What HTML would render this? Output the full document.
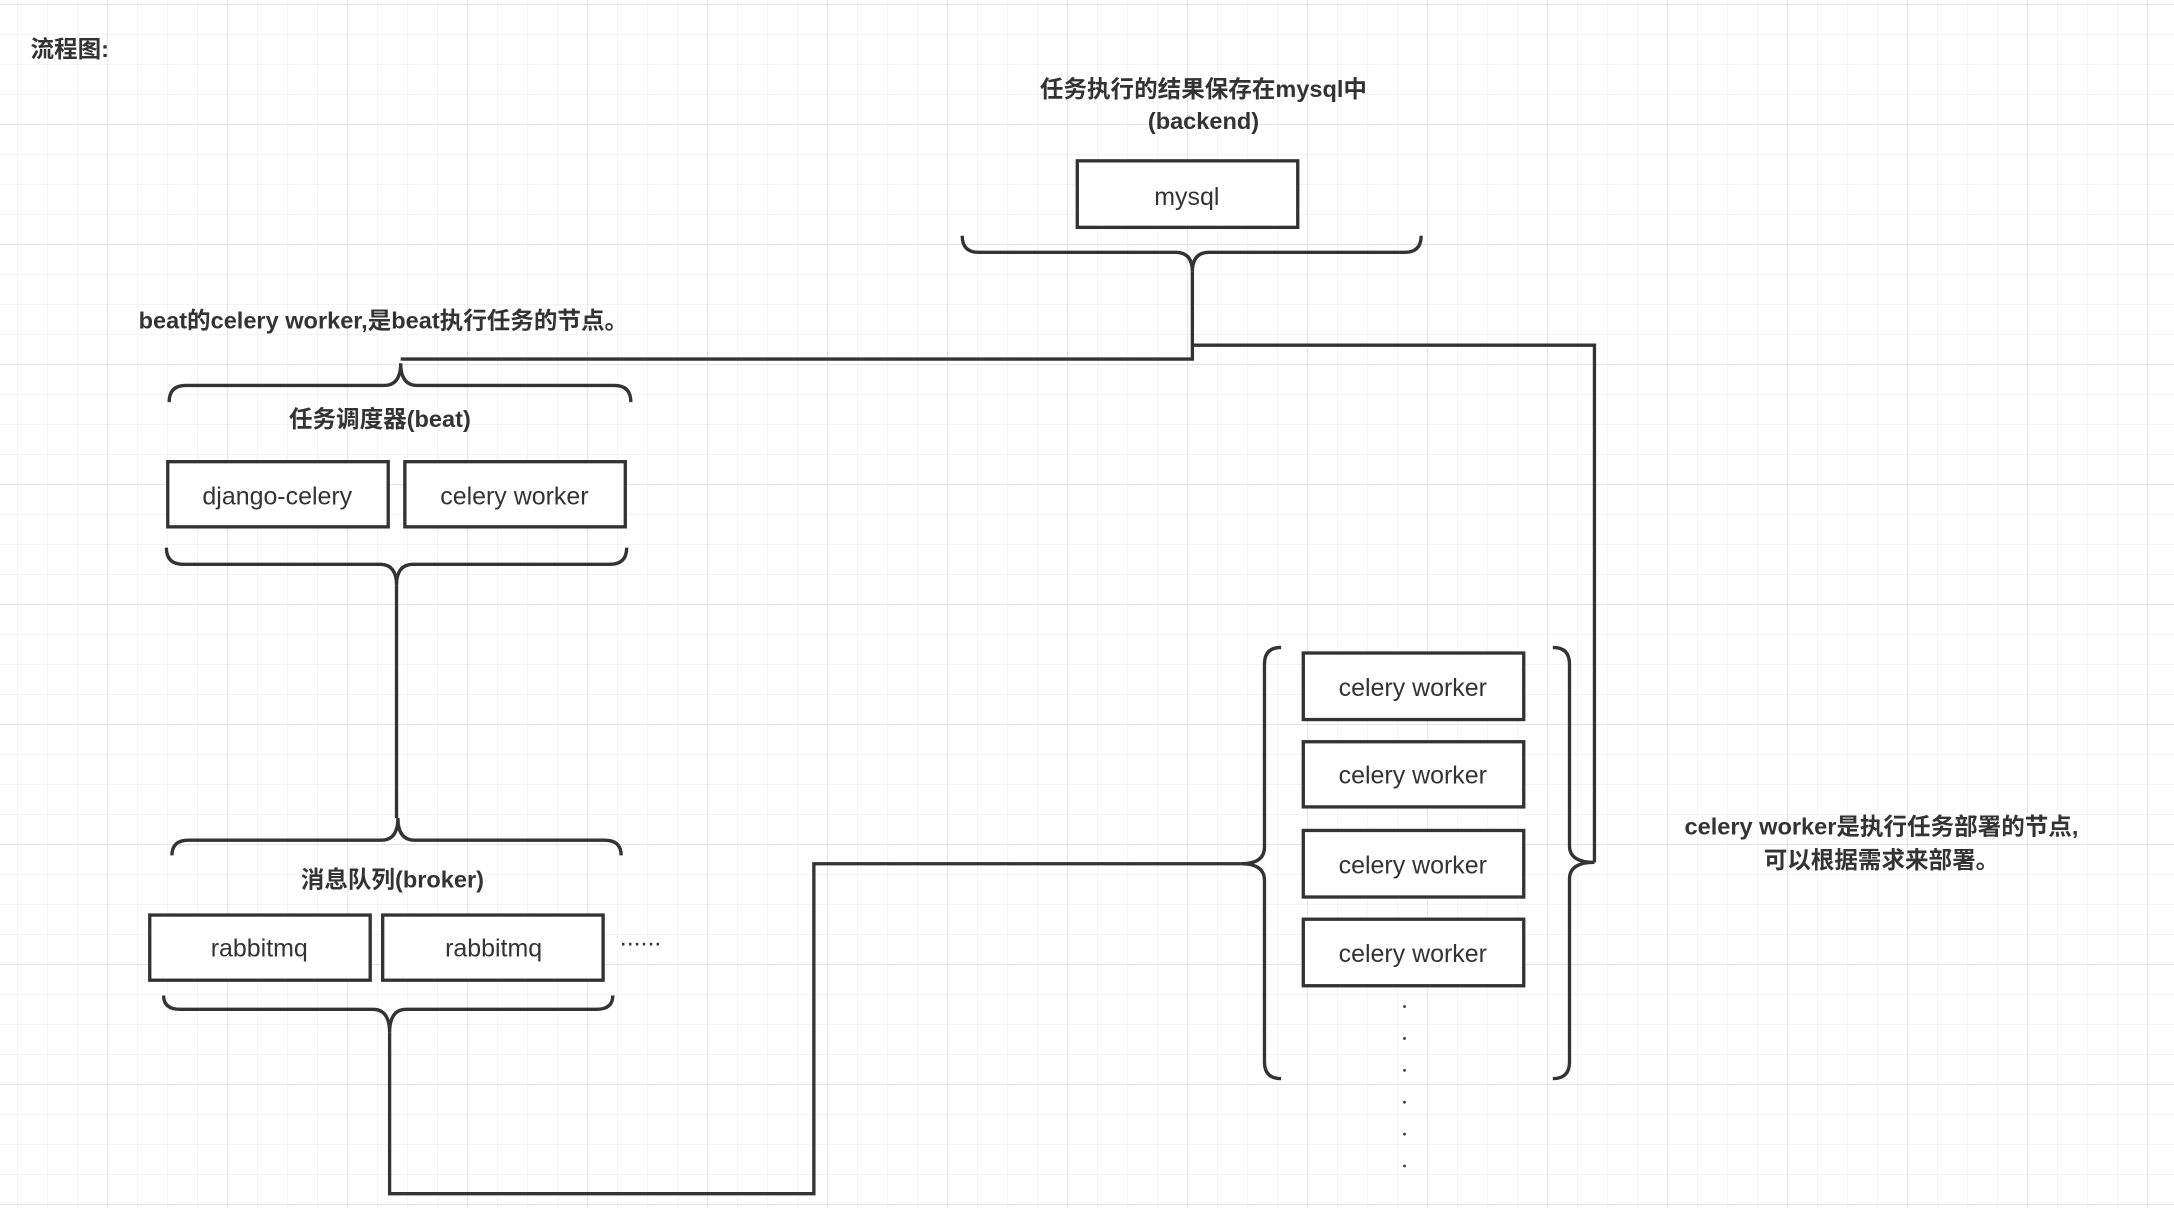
<!DOCTYPE html>
<html><head><meta charset="utf-8"><style>html,body{margin:0;padding:0;background:#fff}svg{display:block}</style></head>
<body>
<svg xmlns="http://www.w3.org/2000/svg" width="2174" height="1208" viewBox="0 0 1568 871.3" preserveAspectRatio="none" font-family="Liberation Sans, Noto Sans CJK SC, sans-serif">
<defs>
<pattern id="minor" width="21.64" height="21.64" patternUnits="userSpaceOnUse" x="12.3" y="2.9">
<path d="M0,0 H21.64 M0,0 V21.64" stroke="#efefef" stroke-width="1" fill="none"/>
</pattern>
<pattern id="major" width="86.55" height="86.55" patternUnits="userSpaceOnUse" x="77.2" y="2.9">
<path d="M0,0 H86.55 M0,0 V86.55" stroke="#e2e2e2" stroke-width="1.2" fill="none"/>
</pattern>
</defs>
<rect width="1568" height="871.3" fill="#fff"/>
<rect width="1568" height="871.3" fill="url(#minor)"/>
<rect width="1568" height="871.3" fill="url(#major)"/>

<g fill="#333" font-weight="bold" font-size="17">
<text x="22" y="41">流程图:</text>
<text x="868" y="70" text-anchor="middle">任务执行的结果保存在mysql中</text>
<text x="868" y="93" text-anchor="middle">(backend)</text>
<text x="100" y="237">beat的celery worker,是beat执行任务的节点。</text>
<text x="274" y="308" text-anchor="middle">任务调度器(beat)</text>
<text x="283" y="640" text-anchor="middle">消息队列(broker)</text>
<text x="1357" y="602" text-anchor="middle">celery worker是执行任务部署的节点,</text>
<text x="1357" y="626" text-anchor="middle">可以根据需求来部署。</text>
</g>

<g fill="#fff" stroke="#333" stroke-width="2.4">
<rect x="777" y="116" width="159" height="48"/>
<rect x="121" y="333" width="159" height="47"/>
<rect x="292" y="333" width="159" height="47"/>
<rect x="108" y="660" width="159" height="47"/>
<rect x="276" y="660" width="159" height="47"/>
<rect x="940" y="471" width="159" height="48"/>
<rect x="940" y="535" width="159" height="47"/>
<rect x="940" y="599" width="159" height="48"/>
<rect x="940" y="663" width="159" height="48"/>
</g>
<g fill="#333" font-size="18" text-anchor="middle">
<text x="856" y="148">mysql</text>
<text x="200" y="364">django-celery</text>
<text x="371" y="364">celery worker</text>
<text x="187" y="690">rabbitmq</text>
<text x="356" y="690">rabbitmq</text>
<text x="1019" y="502">celery worker</text>
<text x="1019" y="565">celery worker</text>
<text x="1019" y="630">celery worker</text>
<text x="1019" y="694">celery worker</text>
<text x="462" y="682">......</text>
</g>
<g fill="#333">
<circle cx="1013" cy="726" r="1"/><circle cx="1013" cy="749" r="1"/><circle cx="1013" cy="772" r="1"/>
<circle cx="1013" cy="795" r="1"/><circle cx="1013" cy="818" r="1"/><circle cx="1013" cy="841" r="1"/>
</g>

<g fill="none" stroke="#333" stroke-width="2.4">
<!-- mysql brace -->
<path d="M694,170 Q694,182 706,182 L848,182 Q860,182 860,196 Q860,182 872,182 L1013,182 Q1025,182 1025,170"/>
<path d="M860,196 V259 H289"/>
<path d="M860,249 H1150 V622"/>
<!-- beat top brace -->
<path d="M122,290 Q122,278 134,278 L277,278 Q289,278 289,262 Q289,278 301,278 L443,278 Q455,278 455,290"/>
<!-- beat bottom brace -->
<path d="M120,395 Q120,407 132,407 L274,407 Q286,407 286,422 Q286,407 298,407 L440,407 Q452,407 452,395"/>
<path d="M286,422 V590"/>
<!-- broker top brace -->
<path d="M124,617 Q124,606 136,606 L275,606 Q287,606 287,590 Q287,606 299,606 L436,606 Q448,606 448,617"/>
<!-- broker bottom brace -->
<path d="M118,718 Q118,728 130,728 L269,728 Q281,728 281,745 Q281,728 293,728 L430,728 Q442,728 442,718"/>
<path d="M281,745 V861 H587 V623 H895"/>
<!-- left worker brace -->
<path d="M924,467 Q912,467 912,479 L912,611 Q912,623 895,623 Q912,623 912,635 L912,766 Q912,778 924,778"/>
<!-- right worker brace -->
<path d="M1120,467 Q1132,467 1132,479 L1132,610 Q1132,622 1150,622 Q1132,622 1132,634 L1132,766 Q1132,778 1120,778"/>
</g>
</svg>
</body></html>
